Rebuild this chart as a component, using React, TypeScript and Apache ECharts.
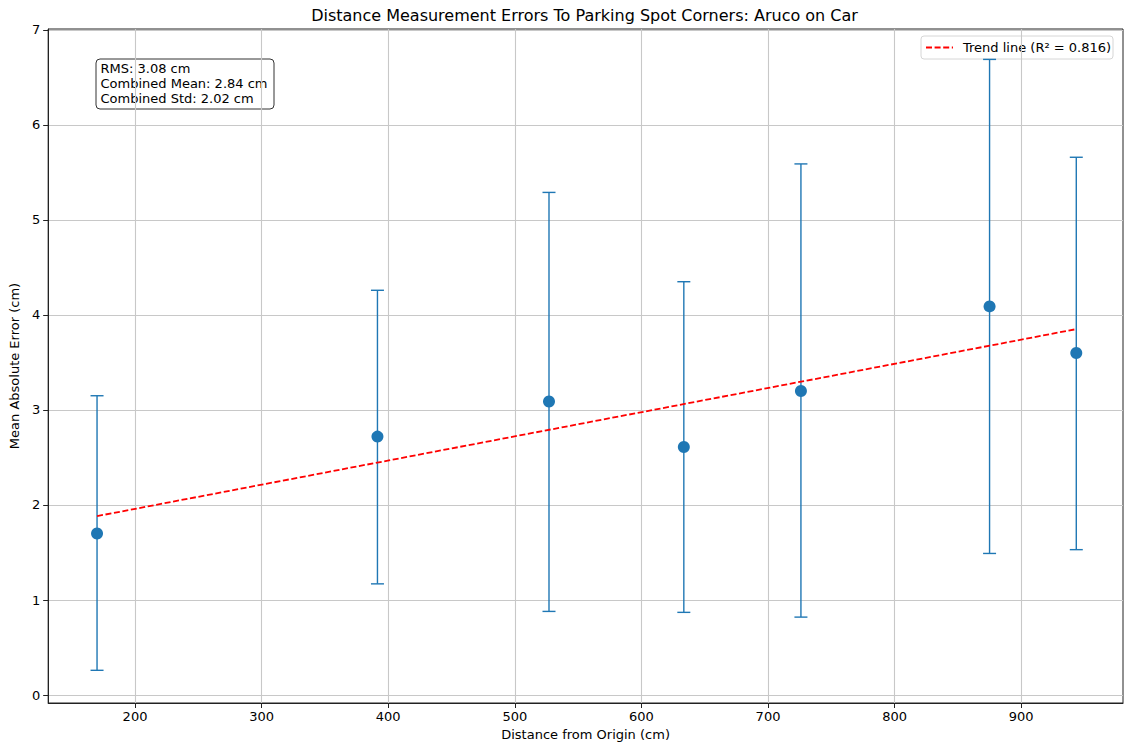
import React, { useEffect, useRef } from "react";
import * as echarts from "echarts";

const distances = [170, 391.5, 527, 633.5, 726, 875, 943.5];
const meanErrors = [1.70, 2.72, 3.09, 2.61, 3.20, 4.09, 3.60];
const errLow = [0.26, 1.17, 0.88, 0.87, 0.82, 1.49, 1.53];
const errHigh = [3.15, 4.26, 5.29, 4.35, 5.59, 6.69, 5.66];
const trendX = [170, 943.5];
const trendY = [1.883, 3.851];
const xTicks = [200, 300, 400, 500, 600, 700, 800, 900];
const yTicks = [0, 1, 2, 3, 4, 5, 6, 7];
const statsLines = ["RMS: 3.08 cm", "Combined Mean: 2.84 cm", "Combined Std: 2.02 cm"];
const legendLabel = "Trend line (R\u00b2 = 0.816)";
const titleText = "Distance Measurement Errors To Parking Spot Corners: Aruco on Car";

const FONT = "DejaVu Sans";
const BLUE = "#1f77b4";

export default function App() {
  const ref = useRef<HTMLDivElement>(null);
  useEffect(() => {
    if (!ref.current) return;
    const chart = echarts.init(ref.current, null, { renderer: "svg" });
    const errData = distances.map((d, i) => [d, errLow[i], errHigh[i]]);
    const option: any = {
      animation: false,
      textStyle: { fontFamily: FONT },
      grid: {
        left: 46,
        right: 1,
        top: 29,
        bottom: 43,
        show: true,
        borderColor: "#222",
        borderWidth: 1,
        backgroundColor: "transparent",
      },
      xAxis: {
        type: "value",
        min: 131.4,
        max: 980.4,
        name: "Distance from Origin (cm)",
        nameLocation: "middle",
        nameGap: 23,
        nameTextStyle: { fontFamily: FONT, fontSize: 13, color: "#000" },
        axisLine: { show: true, onZero: false, lineStyle: { color: "#222", width: 1 } },
        axisTick: { show: true, length: 5, lineStyle: { color: "#222" }, customValues: xTicks },
        axisLabel: { fontFamily: FONT, fontSize: 13, color: "#000", margin: 7, customValues: xTicks },
        splitLine: { show: true, lineStyle: { color: "#c8c8c8", width: 1.1 } },
      },
      yAxis: {
        type: "value",
        min: -0.084,
        max: 7.01,
        name: "Mean Absolute Error (cm)",
        nameLocation: "middle",
        nameGap: 23,
        nameTextStyle: { fontFamily: FONT, fontSize: 13, color: "#000" },
        axisLine: { show: true, onZero: false, lineStyle: { color: "#222", width: 1 } },
        axisTick: { show: true, length: 5, lineStyle: { color: "#222" }, customValues: yTicks },
        axisLabel: { fontFamily: FONT, fontSize: 13, color: "#000", margin: 8, customValues: yTicks },
        splitLine: { show: true, lineStyle: { color: "#c8c8c8", width: 1.1 } },
      },
      series: [
        {
          type: "custom",
          name: "errorbars",
          data: errData,
          z: 2,
          renderItem: (params: any, api: any) => {
            const x = api.value(0);
            const lo = api.coord([x, api.value(1)]);
            const hi = api.coord([x, api.value(2)]);
            const hw = 6.5;
            const style = { stroke: BLUE, lineWidth: 1.4 };
            return {
              type: "group",
              children: [
                { type: "line", shape: { x1: lo[0], y1: lo[1], x2: hi[0], y2: hi[1] }, style },
                { type: "line", shape: { x1: lo[0] - hw, y1: lo[1], x2: lo[0] + hw, y2: lo[1] }, style },
                { type: "line", shape: { x1: hi[0] - hw, y1: hi[1], x2: hi[0] + hw, y2: hi[1] }, style },
              ],
            };
          },
        },
        {
          type: "scatter",
          name: "points",
          data: distances.map((d, i) => [d, meanErrors[i]]),
          symbol: "circle",
          symbolSize: 12,
          itemStyle: { color: BLUE, opacity: 1 },
          z: 3,
        },
        {
          type: "line",
          name: legendLabel,
          data: trendX.map((d, i) => [d, trendY[i]]),
          symbol: "none",
          lineStyle: { color: "#ff0000", width: 1.8, type: [6, 2.6] },
          itemStyle: { color: "#ff0000" },
          z: 4,
        },
      ],
      graphic: [
        {
          type: "text",
          x: 584.5,
          y: 15,
          style: {
            text: titleText,
            fontFamily: FONT,
            fontSize: 16,
            fill: "#000",
            align: "center",
            verticalAlign: "middle",
          },
        },
        {
          type: "group",
          x: 96,
          y: 59,
          z: 10,
          children: [
            {
              type: "rect",
              shape: { x: 0, y: 0, width: 178, height: 50, r: 4 },
              style: { fill: "rgba(255,255,255,0.8)", stroke: "#333", lineWidth: 1 },
            },
            {
              type: "text",
              x: 4.5,
              y: 2,
              style: {
                text: statsLines.join("\n"),
                fontFamily: FONT,
                fontSize: 13,
                lineHeight: 15,
                fill: "#000",
              },
            },
          ],
        },
        {
          type: "group",
          x: 921,
          y: 36,
          z: 10,
          children: [
            {
              type: "rect",
              shape: { x: 0, y: 0, width: 192, height: 23, r: 3 },
              style: { fill: "rgba(255,255,255,0.85)", stroke: "#d6d6d6", lineWidth: 1 },
            },
            {
              type: "line",
              shape: { x1: 5, y1: 11.5, x2: 32, y2: 11.5 },
              style: { stroke: "#ff0000", lineWidth: 1.8, lineDash: [6, 2.6] },
            },
            {
              type: "text",
              x: 42,
              y: 11.5,
              style: {
                text: legendLabel,
                fontFamily: FONT,
                fontSize: 13,
                fill: "#000",
                verticalAlign: "middle",
              },
            },
          ],
        },
      ],
    };
    chart.setOption(option);
    return () => chart.dispose();
  }, []);
  return (
    <div
      ref={ref}
      style={{ position: "fixed", left: 0, top: 0, width: 1124, height: 746, background: "#fff" }}
    />
  );
}
